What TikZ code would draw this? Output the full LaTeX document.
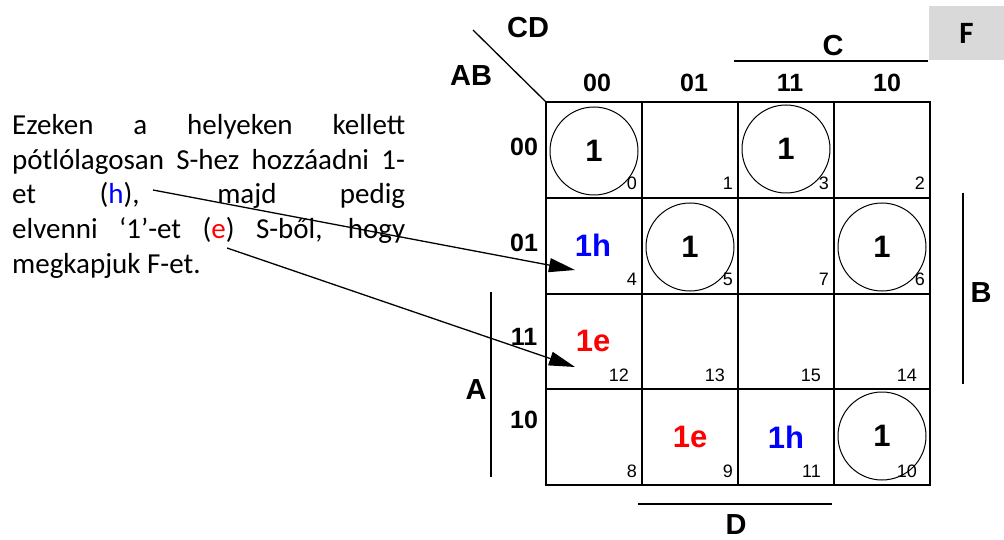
\documentclass[tikz,border=0pt]{standalone}
\usepackage{fontspec}
\setmainfont{Liberation Sans}
\newfontfamily\calibri{Carlito}
\usepackage{xcolor}
\usetikzlibrary{arrows.meta}
\definecolor{shade}{RGB}{217,217,217}
\newcommand{\px}[1]{\fontsize{#1}{#1}\selectfont}

\begin{document}
\begin{tikzpicture}[
  x=1pt, y=-1pt,
  cellgrid/.style={line width=2pt},
  ones/.style={circle, draw, line width=1pt, minimum size=88pt, inner sep=0pt,
               font=\px{31}\bfseries},
  value/.style={font=\px{31}\bfseries},
  idx/.style={font=\px{18}, anchor=base east, inner sep=0pt},
  code/.style={font=\px{25}\bfseries, inner sep=0pt},
  var/.style={font=\px{29}\bfseries, inner sep=0pt},
  varline/.style={line width=1.3pt},
  note/.style={font=\calibri\px{29}, anchor=base west, inner sep=0pt},
  pointer/.style={-{Triangle[length=26pt, width=14pt]}, line width=1.3pt},
  fbox/.style={fill=shade, minimum width=75pt, minimum height=54pt,
               font=\calibri\px{31}\bfseries}
]
  \useasboundingbox (0,0) rectangle (1004,540);

  % Explanation text.
  \node[note] (t1) at (12,135)   {\makebox[393pt][s]{Ezeken a helyeken kellett}};
  \node[note] (t2) at (12,169.5) {\makebox[393pt][s]{pótlólagosan S-hez hozzáadni 1-}};
  \node[note] (t3) at (12,204)   {\makebox[393pt][s]{et (\textcolor{blue}{h}), majd pedig}};
  \node[note] (t4) at (12,238.5) {\makebox[393pt][s]{elvenni ‘1’-et (\textcolor{red}{e}) S-ből, hogy}};
  \node[note] (t5) at (12,273)   {megkapjuk F-et.};

  % Karnaugh map grid.
  \draw[cellgrid] (546,102) rectangle (930,485);
  \foreach \gx in {642,738,834}
    \draw[cellgrid] (\gx,102) -- (\gx,485);
  \foreach \gy in {197.75,293.5,389.25}
    \draw[cellgrid] (546,\gy) -- (930,\gy);

  % Corner labels.
  \coordinate (corner) at (546,102);
  \coordinate (slash) at (473,30);
  \draw[line width=1.3pt] (slash) -- (corner);
  \node[var] (cd) at (528,28) {CD};
  \node[var] (ab) at (471,76) {AB};

  % Column and row codes.
  \node[code] (col0) at (597,83) {00};
  \node[code] (col1) at (694,83) {01};
  \node[code] (col2) at (790,83) {11};
  \node[code] (col3) at (887,83) {10};
  \node[code] (row0) at (524,147) {00};
  \node[code] (row1) at (524,243) {01};
  \node[code] (row2) at (524,337) {11};
  \node[code] (row3) at (524,420) {10};

  % Variable bars.
  \coordinate (c-l) at (734,61);  \coordinate (c-r) at (928,61);
  \draw[varline] (c-l) -- (c-r);
  \node[var] (c) at (833,46) {C};
  \coordinate (b-t) at (963,193); \coordinate (b-b) at (963,384);
  \draw[varline] (b-t) -- (b-b);
  \node[var] (b) at (981,293) {B};
  \coordinate (a-t) at (491,292); \coordinate (a-b) at (491,477);
  \draw[varline] (a-t) -- (a-b);
  \node[var] (a) at (476,390) {A};
  \coordinate (d-l) at (638,504); \coordinate (d-r) at (832,504);
  \draw[varline] (d-l) -- (d-r);
  \node[var] (d) at (736,525) {D};

  % Output label.
  \node[fbox] (f) at (966.5,33) {F};

  % Cell contents.
  \node[ones] (m0)  at (594,151) {1};
  \node[ones] (m3)  at (786,149) {1};
  \node[ones] (m5)  at (690,247) {1};
  \node[ones] (m6)  at (882,247) {1};
  \node[ones] (m10) at (882,436) {1};
  \node[value, text=blue] (h4)  at (593,245) {1h};
  \node[value, text=red]  (e12) at (593,341) {1e};
  \node[value, text=red]  (e9)  at (690,437) {1e};
  \node[value, text=blue] (h11) at (786,437) {1h};

  % Cell indices.
  \foreach \c/\r/\n/\o in {0/0/0/5, 1/0/1/5, 2/0/3/5, 3/0/2/5,
                           0/1/4/5, 1/1/5/5, 2/1/7/5, 3/1/6/5,
                           0/2/12/13, 1/2/13/13, 2/2/15/13, 3/2/14/13,
                           0/3/8/5, 1/3/9/5, 2/3/11/13, 3/3/10/13}
    \node[idx] (n\n) at ({642+96*\c-\o},{189.75+95.75*\r}) {\n};

  % Pointers from the text.
  \coordinate (h-src) at (153,190);
  \coordinate (h-tip) at (575,270);
  \coordinate (e-src) at (227,248);
  \coordinate (e-tip) at (575,367);
  \draw[pointer] (h-src) -- (h-tip);
  \draw[pointer] (e-src) -- (e-tip);
\end{tikzpicture}
\end{document}
